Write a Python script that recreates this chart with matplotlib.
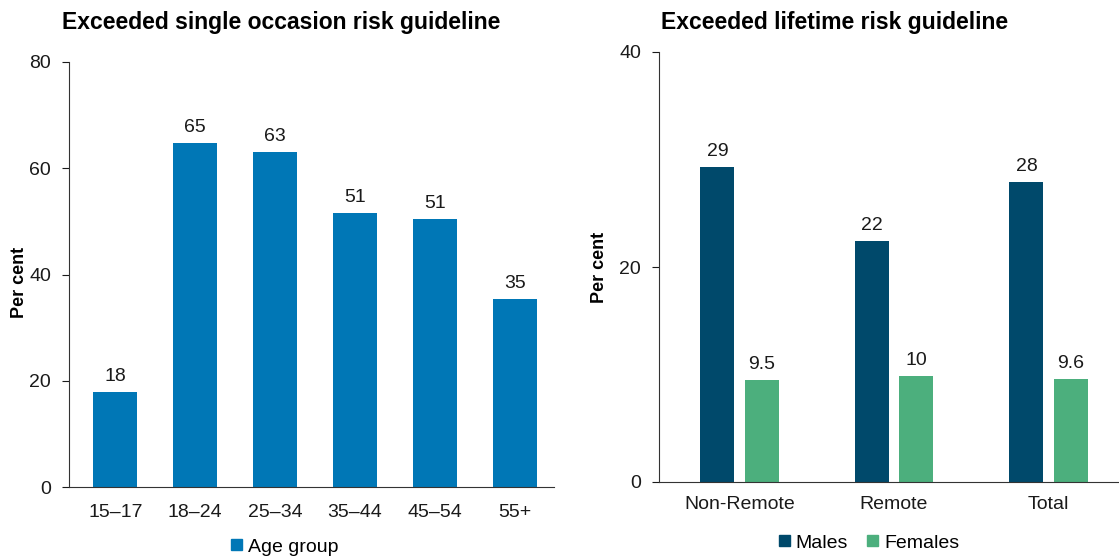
import matplotlib
matplotlib.use("Agg")
import matplotlib.pyplot as plt
import numpy as np
from matplotlib.patches import Patch

plt.rcParams['font.family'] = ['Liberation Sans', 'DejaVu Sans']

age_groups = ['15–17', '18–24', '25–34', '35–44', '45–54', '55+']
single_occ = [17.9, 64.8, 63.1, 51.6, 50.5, 35.4]
single_lbl = ['18', '65', '63', '51', '51', '35']

regions = ['Non-Remote', 'Remote', 'Total']
males = [29.3, 22.4, 27.9]
females = [9.5, 9.9, 9.6]
males_lbl = ['29', '22', '28']
females_lbl = ['9.5', '10', '9.6']

c_blue = '#0077B6'
c_male = '#00496B'
c_female = '#4CAF7D'
c_text = '#1a1a1a'

FS_TICK = 14
FS_VAL = 14
FS_TITLE = 16.5
FS_LEG = 14
FS_YL = 13

W, H = 1119, 560
fig = plt.figure(figsize=(W/100, H/100), dpi=100)

# left axes: x 69..554, y 62..487
ax1 = fig.add_axes([69/W, (H-487)/H, (554-69)/W, (487-62)/H])
x1 = np.arange(len(age_groups))
ax1.bar(x1, single_occ, width=0.55, color=c_blue)
for xi, v, l in zip(x1, single_occ, single_lbl):
    ax1.annotate(l, (xi, v), xytext=(0, 5), textcoords='offset points',
                 ha='center', va='bottom', fontsize=FS_VAL, color=c_text)
ax1.set_xlim(-0.58, 5.49)
ax1.set_ylim(0, 80)
ax1.set_yticks([0, 20, 40, 60, 80])
ax1.set_xticks(x1)
ax1.set_xticklabels(age_groups)
ax1.tick_params(axis='x', length=0, pad=12, labelsize=FS_TICK, colors=c_text)
ax1.tick_params(axis='y', length=5, pad=8, labelsize=FS_TICK, colors=c_text)
for s in ['top', 'right']:
    ax1.spines[s].set_visible(False)
for s in ['left', 'bottom']:
    ax1.spines[s].set_color('#333333')
fig.text(19/W, 1-282/H, 'Per cent', rotation=90, ha='center', va='center',
         fontsize=FS_YL, fontweight='bold', color='black')
fig.text(281/W, 1-22/H, 'Exceeded single occasion risk guideline', ha='center', va='center',
         fontsize=FS_TITLE, fontweight='bold', color='black')
fig.legend(handles=[Patch(color=c_blue, label='Age group')], loc='center',
           bbox_to_anchor=(285/W, 1-547/H), frameon=False, fontsize=FS_LEG,
           handlelength=0.55, handleheight=0.55, handletextpad=0.3)

# right axes: x 659..1119, y 52..482
ax2 = fig.add_axes([659/W, (H-482)/H, (1119-659)/W, (482-52)/H])
x2 = np.arange(len(regions))
off = 0.143
bw = 0.22
ax2.bar(x2 - off, males, width=bw, color=c_male)
ax2.bar(x2 + off, females, width=bw, color=c_female)
for xi, v, l in zip(x2 - off, males, males_lbl):
    ax2.annotate(l, (xi, v), xytext=(0, 5), textcoords='offset points',
                 ha='center', va='bottom', fontsize=FS_VAL, color=c_text)
for xi, v, l in zip(x2 + off, females, females_lbl):
    ax2.annotate(l, (xi, v), xytext=(0, 5), textcoords='offset points',
                 ha='center', va='bottom', fontsize=FS_VAL, color=c_text)
ax2.set_xlim(-0.521, 2.456)
ax2.set_ylim(0, 40)
ax2.set_yticks([0, 20, 40])
ax2.set_xticks(x2)
ax2.set_xticklabels(regions)
ax2.tick_params(axis='x', length=0, pad=10, labelsize=FS_TICK, colors=c_text)
ax2.tick_params(axis='y', length=5, pad=8, labelsize=FS_TICK, colors=c_text)
for s in ['top', 'right']:
    ax2.spines[s].set_visible(False)
for s in ['left', 'bottom']:
    ax2.spines[s].set_color('#333333')
fig.text(599/W, 1-267/H, 'Per cent', rotation=90, ha='center', va='center',
         fontsize=FS_YL, fontweight='bold', color='black')
fig.text(835/W, 1-22/H, 'Exceeded lifetime risk guideline', ha='center', va='center',
         fontsize=FS_TITLE, fontweight='bold', color='black')
fig.legend(handles=[Patch(color=c_male, label='Males'), Patch(color=c_female, label='Females')],
           loc='center', bbox_to_anchor=(869/W, 1-543/H), frameon=False, fontsize=FS_LEG, ncol=2,
           handlelength=0.55, handleheight=0.55, handletextpad=0.3, columnspacing=1.0)

fig.savefig('out.png', dpi=100)
